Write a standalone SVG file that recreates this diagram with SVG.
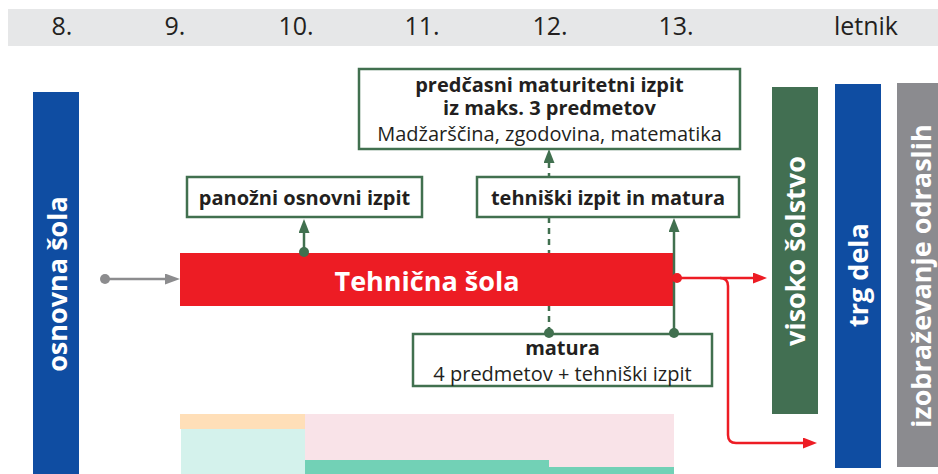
<svg xmlns="http://www.w3.org/2000/svg" width="938" height="474" viewBox="0 0 938 474">
  <style>
    .yr { font-family: "Open Sans", "DejaVu Sans", sans-serif; font-size: 25px; fill: #231f20; text-anchor: middle; }
    .bar { font-family: "Open Sans", "DejaVu Sans", sans-serif; font-weight: bold; font-size: 27px; fill: #ffffff; text-anchor: middle; }
    .box { fill: #ffffff; stroke: #41704f; stroke-width: 2.5; }
    .lb { font-family: "Open Sans", "DejaVu Sans", sans-serif; font-weight: bold; font-size: 20px; fill: #231f20; text-anchor: middle; }
    .lr { font-family: "Open Sans", "DejaVu Sans", sans-serif; font-size: 20px; fill: #231f20; text-anchor: middle; }
    .g { fill: none; stroke: #41704f; stroke-width: 2.5; }
    .r { fill: none; stroke: #ed1c24; stroke-width: 2.5; }
  </style>
  <defs>
    <marker id="ag" markerUnits="userSpaceOnUse" markerWidth="14" markerHeight="11" refX="0" refY="5.5" orient="auto">
      <path d="M0,0 L14,5.5 L0,11 z" fill="#41704f"/>
    </marker>
    <marker id="ar" markerUnits="userSpaceOnUse" markerWidth="14" markerHeight="11" refX="0" refY="5.5" orient="auto">
      <path d="M0,0 L14,5.5 L0,11 z" fill="#ed1c24"/>
    </marker>
    <marker id="ay" markerUnits="userSpaceOnUse" markerWidth="15" markerHeight="11" refX="0" refY="5.5" orient="auto">
      <path d="M0,0 L15,5.5 L0,11 z" fill="#8c8c8e"/>
    </marker>
  </defs>

  <rect width="938" height="474" fill="#ffffff"/>

  <g id="years">
    <rect x="8" y="9" width="930" height="37" fill="#e6e7e8"/>
    <text class="yr" x="62" y="35">8.</text>
    <text class="yr" x="175" y="35">9.</text>
    <text class="yr" x="296" y="35">10.</text>
    <text class="yr" x="422" y="35">11.</text>
    <text class="yr" x="550" y="35">12.</text>
    <text class="yr" x="676" y="35">13.</text>
    <text class="yr" x="866" y="35">letnik</text>
  </g>

  <g id="bottom-bars">
    <rect x="180" y="414" width="125" height="15" fill="#ffdfb8"/>
    <rect x="181" y="429" width="124" height="45" fill="#d4f2ec"/>
    <rect x="305" y="414" width="369" height="60" fill="#f9e3e8"/>
    <rect x="305" y="460" width="244" height="14" fill="#72d1b6"/>
    <rect x="549" y="467" width="125" height="7" fill="#72d1b6"/>
  </g>

  <g id="osnovna-sola">
    <rect x="33" y="92" width="46" height="382" fill="#0f4da2"/>
    <text class="bar" font-size="26" transform="translate(67,284) rotate(-90)">osnovna šola</text>
  </g>

  <g id="connectors-back">
    <path class="g" d="M549,333 V163" stroke-dasharray="6,5" marker-end="url(#ag)"/>
  </g>

  <g id="tehnicna-sola">
    <rect x="180" y="253" width="493" height="53" fill="#ed1c24"/>
    <text class="bar" x="427" y="291">Tehnična šola</text>
  </g>

  <g id="panozni">
    <rect class="box" x="187" y="177" width="235" height="40"/>
    <text class="lb" x="304.5" y="205">panožni osnovni izpit</text>
  </g>

  <g id="tehniski">
    <rect class="box" x="477" y="177" width="262" height="40"/>
    <text class="lb" x="608" y="205">tehniški izpit in matura</text>
  </g>

  <g id="predcasni">
    <rect class="box" x="359" y="69" width="381" height="80"/>
    <text class="lb" x="549.5" y="92">predčasni maturitetni izpit</text>
    <text class="lb" x="549.5" y="115">iz maks. 3 predmetov</text>
    <text class="lr" x="549.5" y="141">Madžarščina, zgodovina, matematika</text>
  </g>

  <g id="matura">
    <rect class="box" x="413" y="334" width="299" height="52"/>
    <text class="lb" x="562.5" y="355">matura</text>
    <text class="lr" x="562.5" y="381">4 predmetov + tehniški izpit</text>
  </g>

  <g id="visoko-solstvo">
    <rect x="772" y="87" width="46" height="327" fill="#426f52"/>
    <text class="bar" transform="translate(805,251) rotate(-90)">visoko šolstvo</text>
  </g>

  <g id="trg-dela">
    <rect x="835" y="84" width="46" height="384" fill="#0f4da2"/>
    <text class="bar" transform="translate(868,275) rotate(-90)">trg dela</text>
  </g>

  <g id="izobrazevanje-odraslih">
    <rect x="897" y="83" width="46" height="384" fill="#8b8b8f"/>
    <text class="bar" font-size="28" font-weight="600" transform="translate(931,276) rotate(-90)">izobraževanje odraslih</text>
  </g>

  <g id="connectors">
    <path d="M105,279 H165" fill="none" stroke="#8c8c8e" stroke-width="2.5" marker-end="url(#ay)"/>
    <circle cx="105" cy="279" r="5" fill="#8c8c8e"/>
    <path class="g" d="M304,252 V233" marker-end="url(#ag)"/>
    <circle cx="304" cy="252" r="5" fill="#41704f"/>
    <path class="g" d="M674,333 V232" marker-end="url(#ag)"/>
    <circle cx="674" cy="333" r="5" fill="#41704f"/>
    <circle cx="549" cy="333" r="5" fill="#41704f"/>
    <path class="r" d="M677,278 H753" marker-end="url(#ar)"/>
    <path class="r" d="M720,278 Q728,278 728,286 V435 Q728,443 736,443 H803" marker-end="url(#ar)"/>
    <circle cx="677" cy="278" r="5" fill="#ed1c24"/>
  </g>
</svg>
